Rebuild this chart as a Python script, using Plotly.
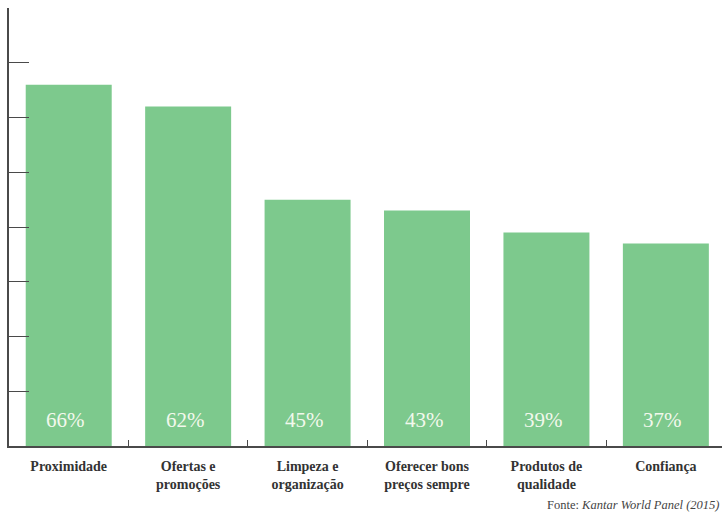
import plotly.graph_objects as go

# Reasons for choosing a store (% of respondents)
categories = [
    "Proximidade",
    "Ofertas e<br>promoções",
    "Limpeza e<br>organização",
    "Oferecer bons<br>preços sempre",
    "Produtos de<br>qualidade",
    "Confiança",
]
values = [66, 62, 45, 43, 39, 37]
value_labels = [f"{v}%" for v in values]

BAR_COLOR = "#7dc98d"
AXIS_COLOR = "#4a4a4a"
SERIF = "Liberation Serif"

fig = go.Figure(
    go.Bar(
        x=categories,
        y=values,
        marker=dict(color=BAR_COLOR, line=dict(width=0)),
        width=0.72,
        hoverinfo="skip",
    )
)

# Percentage labels sit near the foot of each bar
for cat, label in zip(categories, value_labels):
    fig.add_annotation(
        x=cat,
        y=0,
        text=label,
        showarrow=False,
        yanchor="middle",
        yshift=26,
        xshift=-3,
        font=dict(family=SERIF, size=21, color="#f2f8ec"),
    )

fig.add_annotation(
    text="Fonte: <i>Kantar World Panel (2015)</i>",
    xref="paper",
    yref="paper",
    x=0.999,
    y=-0.135,
    xanchor="right",
    yanchor="middle",
    showarrow=False,
    font=dict(family=SERIF, size=12.5, color="#444444"),
)

fig.update_layout(
    width=722,
    height=515,
    margin=dict(l=9, r=0, t=8, b=69),
    paper_bgcolor="white",
    plot_bgcolor="white",
    showlegend=False,
    font=dict(family=SERIF, color="#333333"),
    xaxis=dict(
        type="category",
        range=[-0.5, 5.47],
        showgrid=False,
        showline=True,
        linecolor=AXIS_COLOR,
        linewidth=1.5,
        ticks="inside",
        tickson="boundaries",
        ticklen=6,
        tickwidth=1.2,
        tickcolor=AXIS_COLOR,
        tickfont=dict(family=SERIF, size=14, color="#333333"),
        ticklabelstandoff=6,
        tickvals=categories,
        ticktext=[f"<b>{c}</b>" for c in categories],
    ),
    yaxis=dict(
        range=[0, 80],
        dtick=10,
        showgrid=False,
        zeroline=False,
        showline=True,
        linecolor=AXIS_COLOR,
        linewidth=1.5,
        ticks="inside",
        ticklen=20,
        tickwidth=1.2,
        tickcolor=AXIS_COLOR,
        showticklabels=False,
    ),
)

fig.write_html("out.html")
